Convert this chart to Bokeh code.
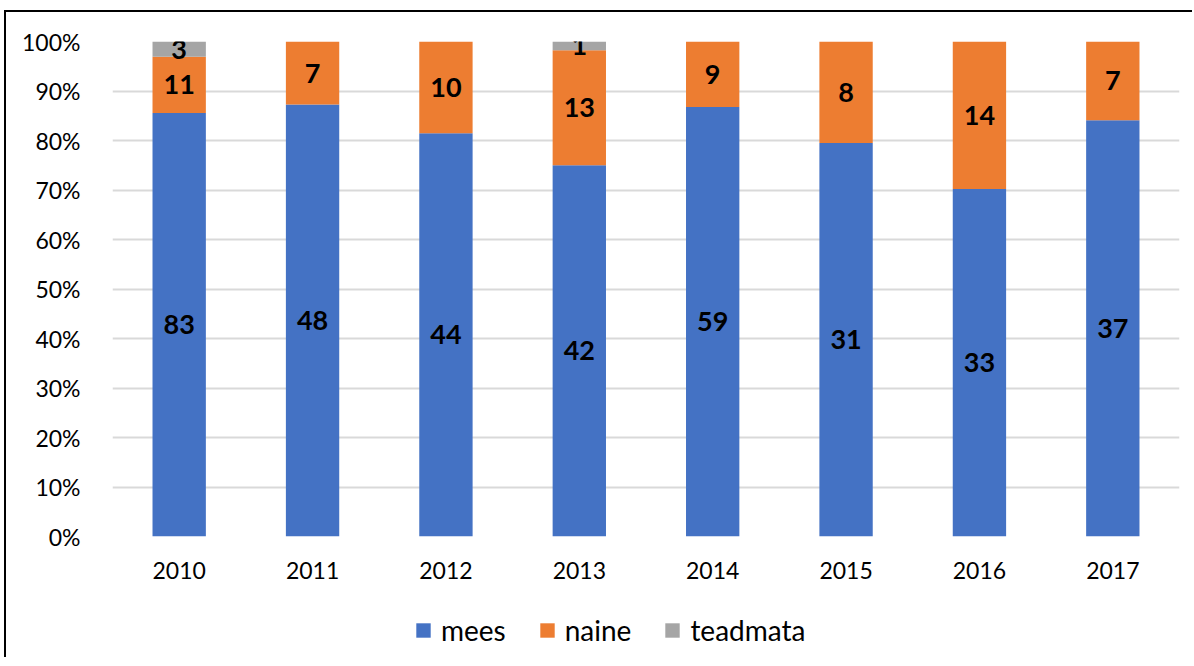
from bokeh.plotting import figure
from bokeh.layouts import column
from bokeh.models import (FactorRange, Range1d, FixedTicker, NumeralTickFormatter,
                          Legend, LegendItem, ColumnDataSource)
from bokeh.core.properties import value
from bokeh.embed import file_html
from bokeh.resources import INLINE

years = ["2010", "2011", "2012", "2013", "2014", "2015", "2016", "2017"]
mees = [83, 48, 44, 42, 59, 31, 33, 37]
naine = [11, 7, 10, 13, 9, 8, 14, 7]
teadmata = [3, 0, 0, 1, 0, 0, 0, 0]
series_names = ["mees", "naine", "teadmata"]
colors = ["#4472C4", "#ED7D31", "#A5A5A5"]
y_ticks = [0, 0.1, 0.2, 0.3, 0.4, 0.5, 0.6, 0.7, 0.8, 0.9, 1.0]

totals = [a + b + c for a, b, c in zip(mees, naine, teadmata)]
share = {
    "mees": [v / t for v, t in zip(mees, totals)],
    "naine": [v / t for v, t in zip(naine, totals)],
    "teadmata": [v / t for v, t in zip(teadmata, totals)],
}
src = ColumnDataSource(dict(years=years, **share))

FONT = "Lato"

p = figure(x_range=FactorRange(*years, range_padding=0), y_range=Range1d(0, 1),
           frame_width=1067, frame_height=495,
           min_border_left=106, min_border_right=13, min_border_top=29, min_border_bottom=76,
           output_backend="svg", toolbar_location=None, tools="")
p.outline_line_color = None
p.background_fill_color = "white"
p.border_fill_color = "white"

renderers = p.vbar_stack(series_names, x="years", width=0.4, color=colors,
                         line_color=None, source=src)

# value labels
lx, ly, lt = [], [], []
counts = {"mees": mees, "naine": naine, "teadmata": teadmata}
for i, yr in enumerate(years):
    base = 0.0
    for s in series_names:
        v = share[s][i]
        if counts[s][i] > 0:
            lx.append(yr)
            ly.append(base + v / 2)
            lt.append(str(counts[s][i]))
        base += v
p.text(x=lx, y=ly, text=lt, text_align="center", text_baseline="middle",
       text_font=value(FONT), text_font_style="bold", text_font_size="27px",
       text_color="black")

# axes
p.yaxis.ticker = FixedTicker(ticks=y_ticks)
p.yaxis.formatter = NumeralTickFormatter(format="0%")
for ax in (p.xaxis[0], p.yaxis[0]):
    ax.axis_line_color = None
    ax.major_tick_line_color = None
    ax.minor_tick_line_color = None
    ax.major_label_text_font = FONT
    ax.major_label_text_font_size = "23px"
    ax.major_label_text_color = "#000000"
p.yaxis.major_label_standoff = 26
p.xaxis.major_label_standoff = 19

p.xgrid.grid_line_color = None
p.ygrid.ticker = FixedTicker(ticks=y_ticks)
p.ygrid.grid_line_color = "#D9D9D9"
p.ygrid.grid_line_width = 2

# legend strip (its frame is aligned with the main plot's frame by the column layout)
lg = figure(width=1186, height=45, x_range=FactorRange(*years, range_padding=0),
            y_range=Range1d(5, 6), x_axis_type=None, y_axis_type=None,
            min_border_left=0, min_border_right=0, min_border_top=0, min_border_bottom=0,
            output_backend="svg", toolbar_location=None, tools="")
lg.outline_line_color = None
lg.background_fill_color = "white"
lg.border_fill_color = "white"
lg.xgrid.visible = False
lg.ygrid.visible = False
leg_renderers = lg.vbar_stack(series_names, x="years", width=0.4, color=colors,
                              line_color=None, source=src)
legend = Legend(items=[LegendItem(label=n, renderers=[r]) for n, r in zip(series_names, leg_renderers)],
                orientation="horizontal", location=(302, 10),
                glyph_width=18, glyph_height=18, label_standoff=9, spacing=32,
                padding=0, margin=0, border_line_color=None, background_fill_alpha=0,
                label_text_font=FONT, label_text_font_size="28px", label_text_color="#000000")
lg.add_layout(legend)

layout = column(p, lg, spacing=0)
layout.styles = {"border-left": "2px solid #000000", "border-top": "2px solid #000000",
                 "margin-top": "10px", "margin-left": "4px"}

open("out.html", "w").write(file_html(layout, INLINE))
